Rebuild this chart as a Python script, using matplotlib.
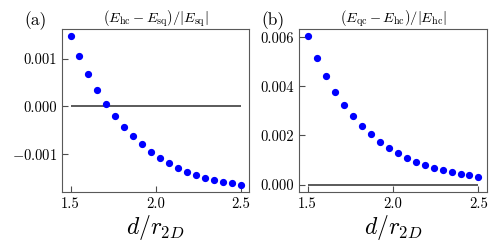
import numpy as np
import matplotlib
matplotlib.use("Agg")
import matplotlib.pyplot as plt

plt.rcParams["font.family"] = "serif"
plt.rcParams["font.serif"] = ["cmr10"]
plt.rcParams["mathtext.fontset"] = "cm"
plt.rcParams["axes.formatter.use_mathtext"] = True

# d / r_2D, 20 points
d_vals = np.linspace(1.5, 2.5, 20)

# (E_hc - E_sq)/|E_sq|
rel_hc_sq = [0.001477, 0.001053, 0.000678, 0.000346, 0.000049,
             -0.000205, -0.000431, -0.000629, -0.000799, -0.000961,
             -0.001088, -0.001201, -0.001300, -0.001378, -0.001449,
             -0.001505, -0.001555, -0.001590, -0.001625, -0.001654]

# (E_qc - E_hc)/|E_hc|
rel_qc_hc = [0.00603, 0.00517, 0.00442, 0.00378, 0.00324,
             0.00278, 0.00238, 0.00204, 0.00174, 0.00148,
             0.00128, 0.00109, 0.00092, 0.00079, 0.00068,
             0.00059, 0.00050, 0.00044, 0.00037, 0.00031]

yticks_a = [-0.001, 0.0, 0.001]
yticks_b = [0.0, 0.002, 0.004, 0.006]
xticks = [1.5, 2.0, 2.5]

TITLES = [r"$(E_{\rm hc}-E_{\rm sq})/|E_{\rm sq}|$",
          r"$(E_{\rm qc}-E_{\rm hc})/|E_{\rm hc}|$"]
LABELS = ["(a)", "(b)"]
XLABEL = r"$d/r_{2D}$"

fig = plt.figure(figsize=(4.98, 2.49), dpi=100)
ax_a = fig.add_axes([0.1245, 0.229, 0.3755, 0.6545])
ax_b = fig.add_axes([0.6004, 0.229, 0.3776, 0.6545])

for ax, y, yt, title, lab in zip([ax_a, ax_b], [rel_hc_sq, rel_qc_hc],
                                 [yticks_a, yticks_b], TITLES, LABELS):
    ax.hlines(0, d_vals[0], d_vals[-1], color="0.3", lw=1.3, zorder=1)
    ax.plot(d_vals, y, "o", color="blue", ms=4.2, zorder=2)
    ax.set_xticks(xticks)
    ax.set_xticklabels(["1.5", "2.0", "2.5"])
    ax.set_yticks(yt)
    ax.set_yticklabels([("$-$" if v < 0 else "") + "%.3f" % abs(v) for v in yt])
    ax.tick_params(direction="in", length=4, labelsize=10.5, color="0.3")
    for sp in ax.spines.values():
        sp.set_color("0.35")
    ax.set_title(title, fontsize=10.3, pad=3)
    ax.set_xlabel(XLABEL, fontsize=17, labelpad=2)
    ax.text(-0.14, 0.995, lab, transform=ax.transAxes, fontsize=12.5,
            ha="center", va="bottom")

fig.savefig("out.png", dpi=100)
